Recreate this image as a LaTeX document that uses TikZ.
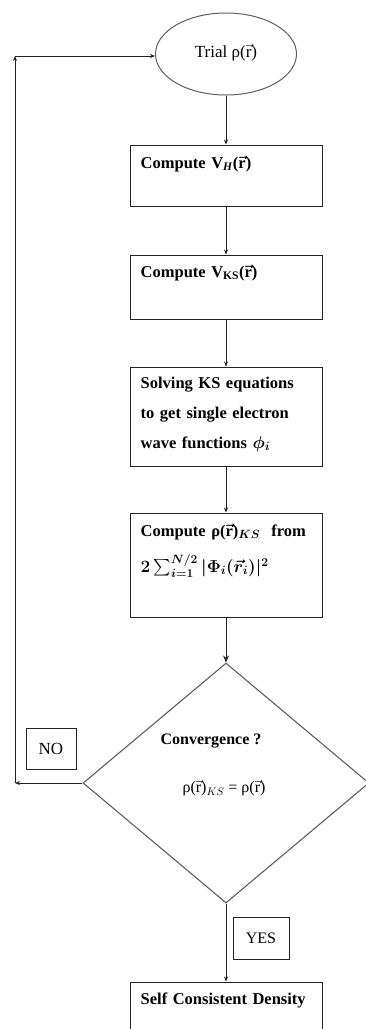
\documentclass[tikz,border=0pt]{standalone}
\usepackage{amsmath, amssymb}
\usepackage{fontspec}
\setmainfont{Liberation Serif}
\usetikzlibrary{shapes.geometric, arrows.meta, positioning}
\definecolor{lineblack}{RGB}{35,35,35}
\definecolor{diamgray}{RGB}{95,95,95}

\begin{document}
\begin{tikzpicture}[x=1pt, y=-1pt,
    stepbox/.style={rectangle, draw=lineblack, line width=1pt,
                    minimum width=192pt, inner sep=0pt},
    boxtext/.style={inner sep=0pt, text width=178pt, align=left,
                    font=\fontsize{16.5}{30}\selectfont\bfseries\boldmath},
    tag/.style={rectangle, draw=lineblack, line width=0.9pt, inner sep=0pt},
    arrow/.style={-{Stealth[length=5pt, width=4pt]}, line width=0.9pt, lineblack},
    bigarrow/.style={-{Stealth[length=7pt, width=6pt]}, line width=0.9pt, lineblack}
]
\clip (0,0) rectangle (366,1029);
\fill[white] (0,0) rectangle (366,1029);

% Steps
\node[ellipse, draw=diamgray, line width=1pt, minimum width=141pt,
      minimum height=82pt, text depth=6pt,
      font=\fontsize{17}{20}\selectfont] (trial) at (226,54) {Trial ρ($\vec{\mathrm{r}}$)};
\node[stepbox, minimum height=61pt]  (vh)    at (226,175.5) {};
\node[stepbox, minimum height=64pt]  (vks)   at (226,287) {};
\node[stepbox, minimum height=99pt]  (solve) at (226,416.5) {};
\node[stepbox, minimum height=104pt] (rho)   at (226,565) {};
\node[diamond, draw=diamgray, line width=1.1pt, minimum width=286pt,
      minimum height=240pt, inner sep=0pt] (conv) at (226,783) {};
\node[stepbox, minimum height=60pt]  (final) at (226,1012) {};

% Texts
\node[boxtext, below right=11pt and 11pt of vh.north west] (vhtxt)
    {Compute V\textsubscript{\textit{H}}($\vec{\mathrm{r}}$)};
\node[boxtext, below right=10pt and 11pt of vks.north west] (vkstxt)
    {Compute V\textsubscript{KS}($\vec{\mathrm{r}}$)};
\node[boxtext, below right=10pt and 11pt of solve.north west] (solvetxt)
    {Solving KS equations\\to get single electron\\wave functions $\phi_{i}$};
\node[boxtext, below right=11pt and 11pt of rho.north west] (rhotxt)
    {Compute ρ($\vec{\mathrm{r}}$)$_{KS}$~ from\\[6pt]$2\sum_{i=1}^{N/2}|\Phi_{i}(\vec{r}_{i})|^{2}$};
\node[boxtext, below right=11pt and 11pt of final.north west] (finaltxt)
    {Self Consistent Density};
\node[font=\fontsize{16}{20}\selectfont\bfseries] (convq) at (211,741) {Convergence ?};
\node[font=\fontsize{16}{20}\selectfont] (conveq) at (224,788)
    {ρ($\vec{\mathrm{r}}$)$_{KS}$ = ρ($\vec{\mathrm{r}}$)};

% Answers
\node[tag, minimum width=50pt, minimum height=41pt,
      font=\fontsize{17}{20}\selectfont] (no) at (51,748.5) {NO};
\node[tag, minimum width=56pt, minimum height=42pt,
      font=\fontsize{16}{20}\selectfont] (yes) at (261,938) {YES};

% Transitions
\draw[arrow] (trial.south) -- (vh.north);
\draw[arrow] (vh) -- (vks);
\draw[arrow] (vks) -- (solve);
\draw[arrow] (solve) -- (rho);
\draw[bigarrow] (rho) -- (conv.north);
\draw[arrow] (conv.south) -- (final.north);

% Loop back
\coordinate (nocorner) at (15,783);
\coordinate (topcorner) at (15,56);
\draw[arrow] (conv.west) -- (nocorner);
\draw[arrow] (nocorner) -- (topcorner);
\draw[arrow] (topcorner) -- (trial.west |- topcorner);
\end{tikzpicture}
\end{document}
